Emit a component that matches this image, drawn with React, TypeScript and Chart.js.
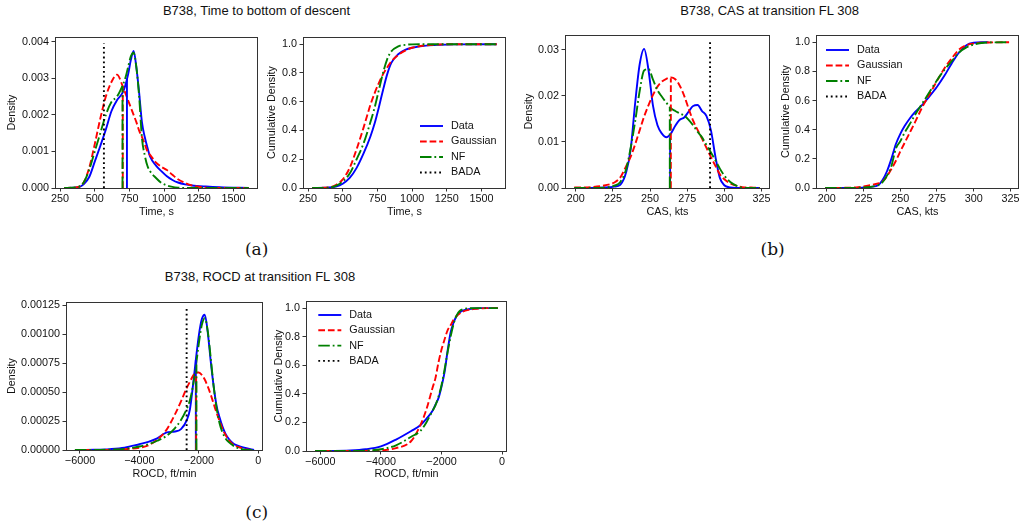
import React, { useEffect, useRef } from "react";
import { Chart, registerables } from "chart.js";
Chart.register(...registerables);

const FONT = "'Liberation Sans', Arial, Helvetica, sans-serif";
const FS = 10.8;
const LW = 1.9;
const AXIS_COLOR = "#333";
const TEXT_COLOR = "#111";

// ---------- (a) Time to bottom of descent ----------
const timePdfX = [280, 380, 420, 460, 500, 540, 580, 620, 660, 700, 720, 740, 760, 780, 800, 820, 840, 860, 880, 900, 940, 980, 1020, 1060, 1100, 1150, 1200, 1300, 1400, 1610];
const timePdfData = [0, 0.00002, 0.0001, 0.0003, 0.00072, 0.00115, 0.0016, 0.0021, 0.0024, 0.0026, 0.0028, 0.0031, 0.0035, 0.00375, 0.0033, 0.0026, 0.0018, 0.0014, 0.0011, 0.00085, 0.00062, 0.00046, 0.00032, 0.00022, 0.00015, 0.0001, 0.00007, 0.00004, 0.00002, 0];
const timePdfGauss = [0, 0.00003, 0.00015, 0.00055, 0.0012, 0.0019, 0.0025, 0.0029, 0.0031, 0.0028, 0.0026, 0.0024, 0.0022, 0.002, 0.0018, 0.00157, 0.0014, 0.0012, 0.001, 0.0009, 0.0007, 0.00058, 0.00049, 0.00036, 0.00024, 0.00014, 0.00007, 0.00001, 0, 0];
const timePdfNF = [0, 0.00003, 0.00015, 0.0005, 0.001, 0.0015, 0.002, 0.00235, 0.0025, 0.0028, 0.003, 0.0033, 0.0036, 0.0037, 0.0033, 0.0025, 0.00137, 0.0009, 0.0006, 0.00045, 0.00028, 0.00014, 0.00007, 0.00003, 0.00001, 0, 0, 0, 0, 0];
const timeVlineX = [732, 702, 700, 566];
const timeVlineTop = [0.003, 0.0027, 0.0028, 0.00395];
const timeCdfX = [280, 400, 450, 500, 550, 600, 650, 700, 730, 760, 790, 820, 850, 900, 950, 1000, 1100, 1200, 1300, 1610];
const timeCdfData = [0, 0.003, 0.01, 0.03, 0.07, 0.14, 0.24, 0.36, 0.45, 0.56, 0.68, 0.79, 0.87, 0.93, 0.96, 0.975, 0.99, 0.996, 0.999, 1];
const timeCdfGauss = [0, 0.005, 0.02, 0.06, 0.14, 0.27, 0.42, 0.58, 0.66, 0.73, 0.79, 0.838, 0.88, 0.925, 0.955, 0.975, 0.992, 0.998, 1, 1];
const timeCdfNF = [0, 0.003, 0.015, 0.045, 0.1, 0.2, 0.31, 0.46, 0.56, 0.68, 0.8, 0.895, 0.95, 0.985, 0.995, 0.999, 1, 1, 1, 1];
const timeTicks = [250, 500, 750, 1000, 1250, 1500];
const timeTickLabels = ["250", "500", "750", "1000", "1250", "1500"];
const timePdfYTicks = [0, 0.001, 0.002, 0.003, 0.004];
const timePdfYLabels = ["0.000", "0.001", "0.002", "0.003", "0.004"];

// ---------- (b) CAS at transition FL 308 ----------
const casPdfX = [199, 210, 220, 226, 230, 234, 237, 240, 243, 246, 249, 252, 255, 258, 261, 264, 267, 270, 273, 276, 279, 282, 285, 288, 291, 294, 297, 300, 304, 308, 312, 318, 324];
const casPdfData = [0, 0, 0.0001, 0.0003, 0.0007, 0.0035, 0.0085, 0.0185, 0.0268, 0.0302, 0.0255, 0.0178, 0.0136, 0.0118, 0.011, 0.0118, 0.0135, 0.0148, 0.0153, 0.0166, 0.0178, 0.018, 0.0167, 0.0156, 0.0125, 0.0068, 0.0022, 0.0006, 0.0001, 0, 0, 0, 0];
const casPdfGauss = [0.0001, 0.0002, 0.0006, 0.0012, 0.0023, 0.0048, 0.0068, 0.0095, 0.0125, 0.0155, 0.018, 0.0202, 0.022, 0.0231, 0.0237, 0.024, 0.0236, 0.0222, 0.02, 0.0172, 0.0146, 0.0126, 0.0107, 0.0087, 0.0067, 0.0048, 0.003, 0.0019, 0.001, 0.0005, 0.0002, 0.0001, 0];
const casPdfNF = [0, 0, 0.0001, 0.0005, 0.0013, 0.0042, 0.0088, 0.0145, 0.021, 0.0255, 0.0258, 0.0235, 0.0212, 0.0198, 0.0185, 0.0173, 0.0167, 0.0162, 0.0157, 0.0148, 0.0136, 0.0122, 0.011, 0.0093, 0.0077, 0.006, 0.0042, 0.0027, 0.0013, 0.0005, 0.0001, 0, 0];
const casVlineX = [263.5, 264, 263.3, 290.4];
const casVlineTop = [0.0112, 0.0238, 0.0175, 0.0316];
const casCdfX = [199, 220, 225, 230, 235, 238, 241, 244, 247, 250, 253, 256, 260, 265, 270, 275, 280, 285, 290, 295, 300, 305, 310, 324];
const casCdfData = [0, 0, 0.003, 0.008, 0.019, 0.055, 0.115, 0.2, 0.3, 0.37, 0.425, 0.47, 0.52, 0.57, 0.63, 0.695, 0.77, 0.855, 0.93, 0.98, 0.997, 1, 1, null];
const casCdfGauss = [0, 0.004, 0.01, 0.02, 0.032, 0.045, 0.08, 0.13, 0.185, 0.25, 0.31, 0.37, 0.45, 0.555, 0.645, 0.735, 0.82, 0.89, 0.95, 0.98, 0.992, 0.997, 0.999, 1];
const casCdfNF = [0, 0.001, 0.003, 0.008, 0.02, 0.04, 0.085, 0.15, 0.27, 0.32, 0.38, 0.43, 0.5, 0.58, 0.66, 0.74, 0.81, 0.87, 0.93, 0.965, 0.985, 0.995, 0.999, 1];
const casTicks = [200, 225, 250, 275, 300, 325];
const casTickLabels = ["200", "225", "250", "275", "300", "325"];
const casPdfYTicks = [0, 0.01, 0.02, 0.03];
const casPdfYLabels = ["0.00", "0.01", "0.02", "0.03"];

// ---------- (c) ROCD at transition FL 308 ----------
const rocdPdfX = [-6170, -5500, -5000, -4500, -4000, -3700, -3400, -3100, -2800, -2600, -2400, -2300, -2200, -2100, -2000, -1900, -1800, -1700, -1600, -1500, -1400, -1300, -1200, -1100, -1000, -900, -800, -600, -400, -140];
const rocdPdfData = [0, 0.000003, 0.000008, 0.00002, 0.00005, 0.00007, 0.0001, 0.00015, 0.00016, 0.00018, 0.00026, 0.00035, 0.00055, 0.00078, 0.00099, 0.00113, 0.00117, 0.00102, 0.00077, 0.00055, 0.00038, 0.00028, 0.0002, 0.00014, 0.0001, 0.00007, 0.00005, 0.00003, 0.000015, 0];
const rocdPdfGauss = [0, 0, 0, 0.000007, 0.00002, 0.00004, 0.00009, 0.00017, 0.00031, 0.00042, 0.00054, 0.00059, 0.00064, 0.00067, 0.00067, 0.00065, 0.00061, 0.00055, 0.00048, 0.0004, 0.00032, 0.00025, 0.00018, 0.00013, 0.00009, 0.00006, 0.00004, 0.00002, 0.000005, 0];
const rocdPdfNF = [0, 0, 0.000003, 0.00001, 0.00003, 0.00005, 0.00008, 0.00012, 0.00019, 0.00026, 0.00036, 0.00043, 0.00055, 0.00072, 0.00092, 0.00108, 0.00114, 0.00103, 0.0008, 0.00055, 0.00036, 0.00023, 0.00015, 0.0001, 0.00007, 0.00005, 0.00003, 0.00001, 0, 0];
const rocdVlineX = [-2100, -2090, -2080, -2410];
const rocdVlineTop = [0.00078, 0.00067, 0.00074, 0.00122];
const rocdCdfX = [-6170, -5000, -4500, -4000, -3500, -3000, -2700, -2500, -2300, -2200, -2100, -2000, -1900, -1800, -1700, -1600, -1500, -1400, -1300, -1100, -900, -700, -500, -140];
const rocdCdfData = [0, 0.004, 0.012, 0.032, 0.08, 0.14, 0.18, 0.225, 0.28, 0.325, 0.37, 0.45, 0.55, 0.7, 0.83, 0.9, 0.945, 0.97, 0.982, 0.993, 0.998, 1, 1, 1];
const rocdCdfGauss = [0, 0, 0.001, 0.004, 0.02, 0.07, 0.18, 0.29, 0.44, 0.51, 0.62, 0.71, 0.78, 0.845, 0.88, 0.92, 0.945, 0.962, 0.975, 0.988, 0.995, 0.998, 1, 1];
const rocdCdfNF = [0, 0, 0.003, 0.012, 0.04, 0.1, 0.14, 0.2, 0.28, 0.32, 0.38, 0.46, 0.57, 0.69, 0.8, 0.89, 0.95, 0.98, 0.992, 0.999, 1, 1, 1, 1];
const rocdTicks = [-6000, -4000, -2000, 0];
const rocdTickLabels = ["\u22126000", "\u22124000", "\u22122000", "0"];
const rocdPdfYTicks = [0, 0.00025, 0.0005, 0.00075, 0.001, 0.00125];
const rocdPdfYLabels = ["0.00000", "0.00025", "0.00050", "0.00075", "0.00100", "0.00125"];

const cdfYTicks = [0, 0.2, 0.4, 0.6, 0.8, 1.0];
const cdfYLabels = ["0.0", "0.2", "0.4", "0.6", "0.8", "1.0"];

const seriesLabels = ["Data", "Gaussian", "NF", "BADA"];
const STYLES = [
  { color: "#0000ff", dash: [] as number[] },
  { color: "#ff0000", dash: [6.7, 2.9] },
  { color: "#008000", dash: [11.5, 2.9, 1.8, 2.9] },
  { color: "#000000", dash: [1.8, 3] },
];

function curve(xs: number[], ys: (number | null)[], si: number) {
  const data: { x: number; y: number }[] = [];
  xs.forEach((x, i) => {
    const y = ys[i];
    if (y !== null && y !== undefined) data.push({ x, y });
  });
  return {
    label: seriesLabels[si],
    data,
    borderColor: STYLES[si].color,
    borderDash: STYLES[si].dash,
    borderWidth: LW,
    pointRadius: 0,
    fill: false,
    cubicInterpolationMode: "monotone",
  };
}
function vline(x: number, top: number, si: number) {
  return {
    label: seriesLabels[si] + " line",
    data: [{ x, y: 0 }, { x, y: top }],
    borderColor: STYLES[si].color,
    borderDash: STYLES[si].dash,
    borderWidth: LW,
    pointRadius: 0,
    fill: false,
  };
}
function withOrder(ds: any[]) {
  return ds.map((d, i) => ({ ...d, order: ds.length - i }));
}
function pdfSets(x: number[], d: number[], g: number[], n: number[], vx: number[], vt: number[]) {
  return withOrder([
    curve(x, d, 0), curve(x, g, 1), curve(x, n, 2),
    vline(vx[0], vt[0], 0), vline(vx[1], vt[1], 1), vline(vx[2], vt[2], 2), vline(vx[3], vt[3], 3),
  ]);
}
function cdfSets(x: number[], d: (number | null)[], g: number[], n: number[]) {
  return withOrder([curve(x, d, 0), curve(x, g, 1), curve(x, n, 2)]);
}

type PanelCfg = {
  l: number; t: number; r: number; b: number; yW: number; xH: number; padT: number; padR: number;
  xMin: number; xMax: number; yMin: number; yMax: number;
  xTicks: number[]; xLabels: string[]; yTicks: number[]; yLabels: string[];
  xTitle: string; yTitle: string; datasets: any[];
  legend?: { x: number; y: number; dy: number };
};

const panels: PanelCfg[] = [
  {
    l: 55, t: 37, r: 258, b: 188, yW: 49, xH: 31, padT: 12, padR: 20,
    xMin: 213.5, xMax: 1676.5, yMin: 0, yMax: 0.00413,
    xTicks: timeTicks, xLabels: timeTickLabels, yTicks: timePdfYTicks, yLabels: timePdfYLabels,
    xTitle: "Time, s", yTitle: "Density",
    datasets: pdfSets(timePdfX, timePdfData, timePdfGauss, timePdfNF, timeVlineX, timeVlineTop),
  },
  {
    l: 303, t: 37, r: 506, b: 188, yW: 37, xH: 31, padT: 12, padR: 20,
    xMin: 213.5, xMax: 1676.5, yMin: 0, yMax: 1.05,
    xTicks: timeTicks, xLabels: timeTickLabels, yTicks: cdfYTicks, yLabels: cdfYLabels,
    xTitle: "Time, s", yTitle: "Cumulative Density",
    datasets: cdfSets(timeCdfX, timeCdfData, timeCdfGauss, timeCdfNF),
    legend: { x: 117, y: 89, dy: 15.5 },
  },
  {
    l: 565, t: 35, r: 770, b: 188, yW: 42, xH: 31, padT: 12, padR: 20,
    xMin: 192.75, xMax: 330.75, yMin: 0, yMax: 0.0332,
    xTicks: casTicks, xLabels: casTickLabels, yTicks: casPdfYTicks, yLabels: casPdfYLabels,
    xTitle: "CAS, kts", yTitle: "Density",
    datasets: pdfSets(casPdfX, casPdfData, casPdfGauss, casPdfNF, casVlineX, casVlineTop),
  },
  {
    l: 816, t: 35, r: 1019, b: 188, yW: 36, xH: 31, padT: 12, padR: 6,
    xMin: 192.75, xMax: 330.75, yMin: 0, yMax: 1.05,
    xTicks: casTicks, xLabels: casTickLabels, yTicks: cdfYTicks, yLabels: cdfYLabels,
    xTitle: "CAS, kts", yTitle: "Cumulative Density",
    datasets: cdfSets(casCdfX, casCdfData, casCdfGauss, casCdfNF),
    legend: { x: 10, y: 15, dy: 15.5 },
  },
  {
    l: 66, t: 302, r: 263, b: 450, yW: 60, xH: 31, padT: 12, padR: 20,
    xMin: -6471, xMax: 161, yMin: 0, yMax: 0.00128,
    xTicks: rocdTicks, xLabels: rocdTickLabels, yTicks: rocdPdfYTicks, yLabels: rocdPdfYLabels,
    xTitle: "ROCD, ft/min", yTitle: "Density",
    datasets: pdfSets(rocdPdfX, rocdPdfData, rocdPdfGauss, rocdPdfNF, rocdVlineX, rocdVlineTop),
  },
  {
    l: 306, t: 301, r: 507, b: 451, yW: 33, xH: 30, padT: 12, padR: 20,
    xMin: -6471, xMax: 161, yMin: 0, yMax: 1.05,
    xTicks: rocdTicks, xLabels: rocdTickLabels, yTicks: cdfYTicks, yLabels: cdfYLabels,
    xTitle: "ROCD, ft/min", yTitle: "Cumulative Density",
    datasets: cdfSets(rocdCdfX, rocdCdfData, rocdCdfGauss, rocdCdfNF),
    legend: { x: 12.3, y: 14, dy: 15.3 },
  },
];

const framePlugin = {
  id: "frame",
  afterDatasetsDraw(chart: any) {
    const { ctx, chartArea: a } = chart;
    ctx.save();
    ctx.strokeStyle = AXIS_COLOR;
    ctx.lineWidth = 1;
    ctx.setLineDash([]);
    ctx.strokeRect(Math.round(a.left) + 0.5, Math.round(a.top) + 0.5, Math.round(a.right - a.left) - 1, Math.round(a.bottom - a.top));
    ctx.restore();
  },
};

function makeLegendPlugin(lg?: { x: number; y: number; dy: number }) {
  return {
    id: "customLegend",
    afterDraw(chart: any) {
      if (!lg) return;
      const { ctx, chartArea: a } = chart;
      ctx.save();
      seriesLabels.forEach((label, i) => {
        const y = a.top + lg.y + i * lg.dy;
        const x0 = a.left + lg.x;
        ctx.beginPath();
        ctx.setLineDash(STYLES[i].dash);
        ctx.strokeStyle = STYLES[i].color;
        ctx.lineWidth = LW;
        ctx.moveTo(x0, y);
        ctx.lineTo(x0 + 23, y);
        ctx.stroke();
        ctx.setLineDash([]);
        ctx.fillStyle = TEXT_COLOR;
        ctx.font = `${FS}px ${FONT}`;
        ctx.textBaseline = "middle";
        ctx.textAlign = "left";
        ctx.fillText(label, x0 + 31, y);
      });
      ctx.restore();
    },
  };
}

function Panel({ p }: { p: PanelCfg }) {
  const ref = useRef<HTMLCanvasElement | null>(null);
  const w = p.yW + (p.r - p.l) + p.padR;
  const h = p.padT + (p.b - p.t) + p.xH;
  useEffect(() => {
    if (!ref.current) return;
    const font = { family: FONT, size: FS };
    const ch = new Chart(ref.current, {
      type: "line",
      data: { datasets: p.datasets },
      options: {
        animation: false,
        responsive: false,
        devicePixelRatio: 1,
        events: [],
        layout: { padding: { top: p.padT, right: p.padR, left: 0, bottom: 0 } },
        plugins: { legend: { display: false }, tooltip: { enabled: false } },
        scales: {
          x: {
            type: "linear",
            min: p.xMin,
            max: p.xMax,
            afterFit: (s: any) => { s.height = p.xH; },
            afterBuildTicks: (s: any) => { s.ticks = p.xTicks.map((v) => ({ value: v })); },
            ticks: {
              autoSkip: false, maxRotation: 0, minRotation: 0, padding: 1, color: TEXT_COLOR, font,
              callback: (v: any) => { const i = p.xTicks.indexOf(Number(v)); return i >= 0 ? p.xLabels[i] : ""; },
            },
            grid: { display: true, drawOnChartArea: false, drawTicks: true, tickLength: 3.5, color: AXIS_COLOR, lineWidth: 1 },
            border: { display: false },
            title: { display: true, text: p.xTitle, color: TEXT_COLOR, font, padding: 0 },
          },
          y: {
            type: "linear",
            min: p.yMin,
            max: p.yMax,
            afterFit: (s: any) => { s.width = p.yW; },
            afterBuildTicks: (s: any) => { s.ticks = p.yTicks.map((v) => ({ value: v })); },
            ticks: {
              autoSkip: false, padding: 2.5, color: TEXT_COLOR, font,
              callback: (v: any) => {
                let best = -1; let bd = Infinity;
                p.yTicks.forEach((t, i) => { const d = Math.abs(t - Number(v)); if (d < bd) { bd = d; best = i; } });
                return best >= 0 ? p.yLabels[best] : "";
              },
            },
            grid: { display: true, drawOnChartArea: false, drawTicks: true, tickLength: 3.5, color: AXIS_COLOR, lineWidth: 1 },
            border: { display: false },
            title: { display: true, text: p.yTitle, color: TEXT_COLOR, font, padding: 0 },
          },
        },
      } as any,
      plugins: [framePlugin, makeLegendPlugin(p.legend)],
    });
    return () => ch.destroy();
  }, []);
  return (
    <canvas
      ref={ref}
      width={w}
      height={h}
      style={{ position: "absolute", left: p.l - p.yW, top: p.t - p.padT, width: w, height: h }}
    />
  );
}

function TextAt({ x, y, text, family, size }: { x: number; y: number; text: string; family: string; size: number }) {
  return (
    <div
      style={{
        position: "absolute", left: x - 200, top: y - size * 0.6, width: 400, textAlign: "center",
        fontFamily: family, fontSize: size, lineHeight: `${size * 1.2}px`, color: TEXT_COLOR, whiteSpace: "nowrap",
      }}
    >
      {text}
    </div>
  );
}

const SERIF = "'DejaVu Serif', 'Liberation Serif', serif";

export default function App() {
  return (
    <div style={{ position: "absolute", left: 0, top: 0, width: 1025, height: 526, overflow: "hidden", background: "#fff" }}>
      {panels.map((p, i) => <Panel key={i} p={p} />)}
      <TextAt x={256.5} y={11} text="B738, Time to bottom of descent" family={FONT} size={13} />
      <TextAt x={769.5} y={11} text="B738, CAS at transition FL 308" family={FONT} size={13} />
      <TextAt x={260} y={277} text="B738, ROCD at transition FL 308" family={FONT} size={13} />
      <TextAt x={256.7} y={249} text="(a)" family={SERIF} size={17} />
      <TextAt x={772.7} y={249} text="(b)" family={SERIF} size={17} />
      <TextAt x={256.7} y={511.7} text="(c)" family={SERIF} size={17} />
    </div>
  );
}
